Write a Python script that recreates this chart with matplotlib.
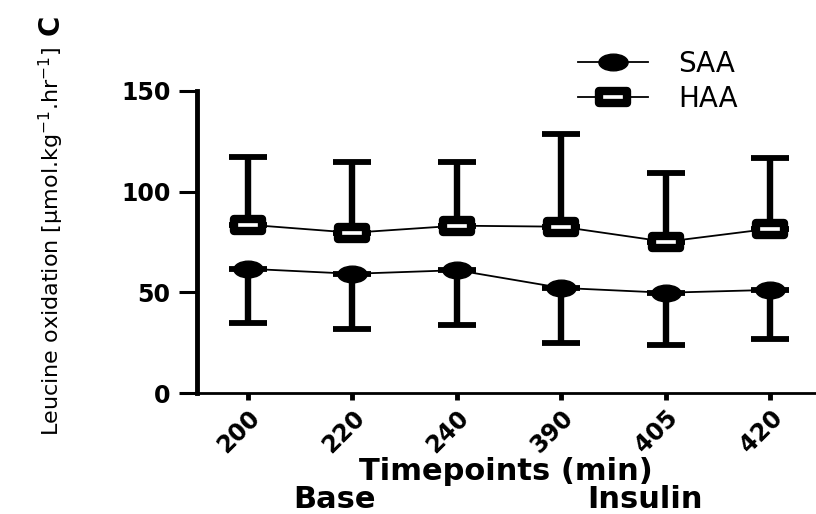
import matplotlib
matplotlib.use("Agg")
import matplotlib.pyplot as plt
import numpy as np
from matplotlib.path import Path
from matplotlib.transforms import Affine2D

timepoints = ["200", "220", "240", "390", "405", "420"]
saa_mean = [61.7, 59.2, 61.0, 52.2, 49.8, 51.2]
saa_low = [34.8, 31.8, 33.8, 24.9, 23.9, 26.9]
haa_mean = [83.6, 79.6, 83.1, 82.6, 75.1, 81.6]
haa_high = [117.4, 114.9, 114.9, 128.4, 109.5, 116.9]

x = np.arange(len(timepoints))
saa_err = np.array(saa_mean) - np.array(saa_low)
haa_err = np.array(haa_high) - np.array(haa_mean)

# wide markers: flattened circle and flattened square
ellipse = Path.unit_circle().transformed(Affine2D().scale(1.75, 1.0))
rect = Path.unit_rectangle().transformed(Affine2D().translate(-0.5, -0.5).scale(2.2, 1.0))

fig = plt.figure(figsize=(8.16, 5.14), dpi=100)
ax = fig.add_axes([0.2414, 0.2354, 0.7586, 0.5876])

# one-sided error bars: SAA downwards, HAA upwards
ax.errorbar(x, saa_mean, yerr=[saa_err, np.zeros_like(saa_err)], fmt="none",
            ecolor="black", elinewidth=4.6, capsize=13.5, capthick=4.2, zorder=2)
ax.errorbar(x, haa_mean, yerr=[np.zeros_like(haa_err), haa_err], fmt="none",
            ecolor="black", elinewidth=4.6, capsize=13.5, capthick=4.2, zorder=2)

l1, = ax.plot(x, saa_mean, color="black", lw=1.3, marker=ellipse, ms=21,
              mfc="black", mec="black", mew=1, zorder=3, label="SAA")
l2, = ax.plot(x, haa_mean, color="black", lw=1.3, marker=rect, ms=20,
              mfc="white", mec="black", mew=6, zorder=3, label="HAA")

ax.set_xlim(-0.489, 5.44)
ax.set_ylim(0, 150)
ax.set_yticks([0, 50, 100, 150])
ax.set_xticks(x)
ax.set_xticklabels(timepoints, rotation=45, ha="right", rotation_mode="anchor",
                   fontsize=17, fontweight="bold")
for lab in ax.get_yticklabels():
    lab.set_fontsize(17)
    lab.set_fontweight("bold")

for side in ["top", "right"]:
    ax.spines[side].set_visible(False)
ax.spines["left"].set_linewidth(3.5)
ax.spines["bottom"].set_linewidth(2)
ax.tick_params(axis="y", length=13, width=2.2, pad=6)
ax.tick_params(axis="x", length=5, width=3.5, pad=4)

ax.set_ylabel("Leucine oxidation [μmol.kg$^{-1}$.hr$^{-1}$]", fontsize=16)
ax.yaxis.set_label_coords(-0.212, 0.5)
fig.text(0.062, 0.952, "C", rotation=90, fontsize=20, fontweight="bold",
         ha="center", va="center")

fig.text(0.62, 0.066, "Timepoints (min)", fontsize=22, fontweight="bold",
         ha="center", va="baseline")
fig.text(0.41, 0.012, "Base", fontsize=22, fontweight="bold",
         ha="center", va="baseline")
fig.text(0.79, 0.012, "Insulin", fontsize=22, fontweight="bold",
         ha="center", va="baseline")

fig.legend(handles=[l1, l2], loc="center left", bbox_to_anchor=(0.695, 0.842),
           frameon=False, fontsize=20, handlelength=2.5, handletextpad=1.1,
           labelspacing=0.25, borderaxespad=0)

fig.savefig("out.png", dpi=100)
